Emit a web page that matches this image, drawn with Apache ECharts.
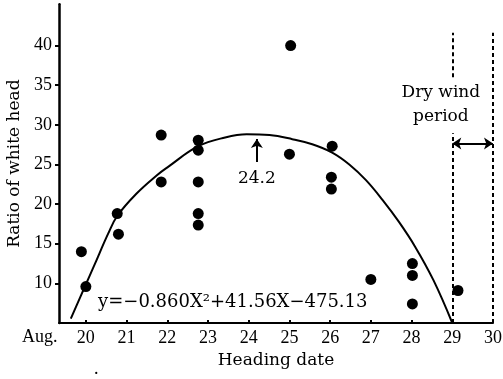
<!DOCTYPE html>
<html>
<head>
<meta charset="utf-8">
<script src="https://cdn.jsdelivr.net/npm/echarts@6/dist/echarts.min.js"></script>
<style>
  html, body { margin: 0; padding: 0; background: #fff; }
  #chart { width: 503px; height: 379px; }
</style>
</head>
<body>
<div id="chart"></div>
<script>
// Observed heading dates (August) and ratio of white heads (%)
const headingDays = [19.89, 20.0, 20.77, 20.8, 21.85, 21.85, 22.76, 22.76, 22.76, 22.76, 22.76,
                     25.03, 25.0, 26.05, 26.03, 26.03, 27.0, 28.02, 28.02, 28.02, 29.14];
const whiteHeadRatios = [14.0, 9.6, 18.8, 16.2, 28.7, 22.8, 28.05, 26.8, 22.8, 18.8, 17.35,
                         40.0, 26.3, 27.3, 23.4, 21.9, 10.5, 12.5, 11.0, 7.4, 9.1];

// Fitted quadratic curve, sampled along the heading dates
const fitDays =   [19.63, 19.99, 20.2, 20.55, 20.77, 21.24, 21.76, 22.02, 22.76, 23.42, 23.95,
                   24.51, 25.07, 25.56, 26.05, 26.47, 26.88, 27.29, 27.69, 28.09, 28.54, 29.0];
const fitRatios = [5.56, 9.76, 12.2, 16.3, 18.5, 21.3, 23.7, 24.7, 27.3, 28.4, 28.8,
                   28.7, 28.19, 27.55, 26.5, 25.0, 23.02, 20.5, 17.75, 14.6, 10.37, 5.0];

const dayTicks = [20, 21, 22, 23, 24, 25, 26, 27, 28, 29, 30];
const ratioTicks = [10, 15, 20, 25, 30, 35, 40];

const equationText = 'y=\u22120.860X\u00B2+41.56X\u2212475.13';
const peakDay = 24.2;
const peakArrow = [25.3, 28.2];          // arrow tail and tip (ratio)
const dryWindStart = 29;
const dryWindEnd = 30;
const dryWindTop = 41.6;
const dryWindGap = [36.0, 28.95];        // gap in the left boundary for the caption
const dryWindArrowY = 27.65;

const serif = 'Liberation Serif';
const wideSerif = 'DejaVu Serif';

const chart = echarts.init(document.getElementById('chart'), null, { renderer: 'canvas' });

// invisible anchor carrying a text label in data coordinates
function textPoint(x, y, text, size, align, extra) {
  return {
    type: 'scatter',
    symbolSize: 0,
    silent: true,
    clip: false,
    z: 5,
    itemStyle: { opacity: 1 },
    data: [[x, y]],
    label: Object.assign({
      show: true,
      position: 'inside',
      formatter: text,
      color: '#000',
      fontFamily: wideSerif,
      fontSize: size,
      align: align,
      verticalAlign: 'middle'
    }, extra || {})
  };
}

const option = {
  animation: false,
  backgroundColor: '#fff',
  grid: { left: 59, right: 10, top: 4.3, bottom: 56, outerBoundsMode: 'none' },
  xAxis: {
    type: 'value',
    min: 19.34,
    max: 30,
    name: 'Heading date',
    nameLocation: 'middle',
    nameGap: 27,
    nameTextStyle: { fontFamily: wideSerif, fontSize: 17, color: '#000' },
    axisLine: { onZero: false, lineStyle: { color: '#000', width: 2 } },
    axisTick: { show: true, inside: true, length: 3, customValues: dayTicks,
                lineStyle: { color: '#000', width: 2 } },
    axisLabel: {
      customValues: dayTicks,
      margin: 6,
      color: '#000',
      fontFamily: serif,
      fontSize: 18
    },
    splitLine: { show: false }
  },
  yAxis: {
    type: 'value',
    min: 5,
    max: 45.2,
    name: 'Ratio of white head',
    nameLocation: 'middle',
    nameGap: 31,
    nameTextStyle: { fontFamily: wideSerif, fontSize: 17, color: '#000' },
    axisLine: { show: true, onZero: false, lineStyle: { color: '#000', width: 2.5 } },
    axisTick: { show: true, inside: false, length: 4, customValues: ratioTicks,
                lineStyle: { color: '#000', width: 2 } },
    axisLabel: {
      customValues: ratioTicks,
      margin: 7,
      color: '#000',
      fontFamily: serif,
      fontSize: 18
    },
    splitLine: { show: false }
  },
  series: [
    {
      type: 'line',
      data: fitDays.map((d, i) => [d, fitRatios[i]]),
      smooth: 0.4,
      showSymbol: false,
      silent: true,
      lineStyle: { color: '#000', width: 2 },
      z: 3
    },
    {
      type: 'scatter',
      data: headingDays.map((d, i) => [d, whiteHeadRatios[i]]),
      symbol: 'circle',
      symbolSize: 11,
      itemStyle: { color: '#000', opacity: 1 },
      silent: true,
      z: 4
    },
    {
      // dry wind period boundaries
      type: 'lines',
      coordinateSystem: 'cartesian2d',
      silent: true,
      symbol: 'none',
      lineStyle: { color: '#000', width: 2, type: [4, 3], opacity: 1 },
      data: [
        { coords: [[dryWindStart, 5], [dryWindStart, dryWindGap[1]]] },
        { coords: [[dryWindStart, dryWindGap[0]], [dryWindStart, dryWindTop]] },
        { coords: [[dryWindEnd, 5], [dryWindEnd, dryWindTop]] }
      ]
    },
    {
      // double-headed arrow spanning the dry wind period
      type: 'lines',
      coordinateSystem: 'cartesian2d',
      silent: true,
      symbol: ['arrow', 'arrow'],
      symbolSize: 9,
      lineStyle: { color: '#000', width: 2, opacity: 1 },
      data: [{ coords: [[dryWindStart, dryWindArrowY], [dryWindEnd, dryWindArrowY]] }]
    },
    {
      // arrow marking the vertex of the curve
      type: 'lines',
      coordinateSystem: 'cartesian2d',
      silent: true,
      symbol: ['none', 'arrow'],
      symbolSize: 9,
      lineStyle: { color: '#000', width: 2, opacity: 1 },
      data: [{ coords: [[peakDay, peakArrow[0]], [peakDay, peakArrow[1]]] }]
    },
    textPoint(peakDay, 23.27, String(peakDay), 17, 'center'),
    textPoint(20.3, 7.6, equationText, 18, 'left'),
    textPoint(28.72, 32.5, 'Dry wind\nperiod', 17, 'center', { lineHeight: 24 }),
    // month prefix in front of the first date label
    textPoint(20, 5, 'Aug.', 18, 'center', { fontFamily: serif, offset: [-46, 14.5] })
  ],
  graphic: [
    { type: 'text', left: 94, top: 360, style: { text: '.', font: '18px "Liberation Serif"', fill: '#000' } }
  ]
};

chart.setOption(option);
</script>
</body>
</html>
